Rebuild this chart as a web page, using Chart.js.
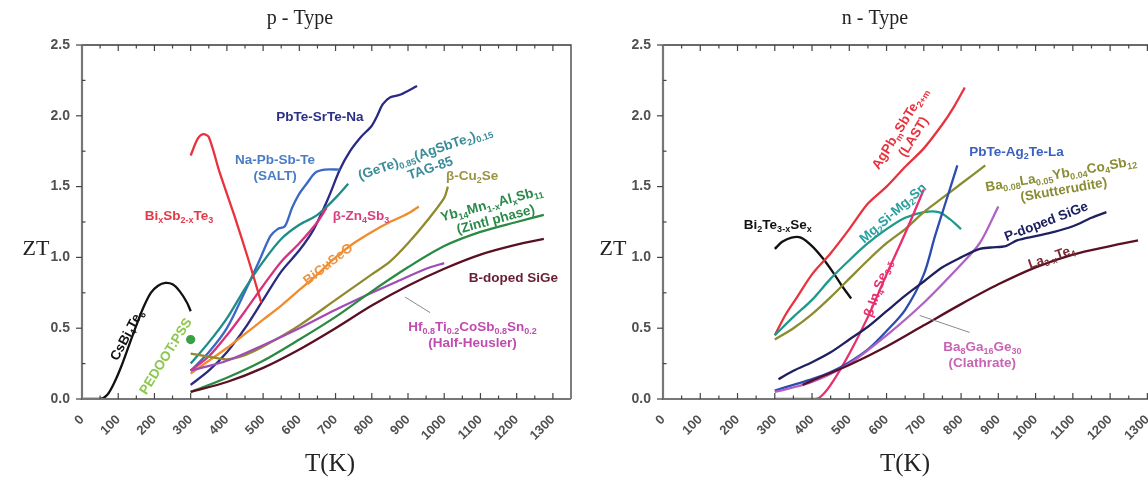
<!DOCTYPE html>
<html>
<head>
<meta charset="utf-8">
<script src="https://cdn.jsdelivr.net/npm/chart.js@4.4.1/dist/chart.umd.min.js"></script>
<style>
  html, body { margin: 0; padding: 0; background: #fff; overflow: hidden; }
  #wrap { position: relative; width: 1148px; height: 483px; overflow: hidden; }
  #pBox { position: absolute; left: 0; top: 0; width: 580px; height: 483px; }
  #nBox { position: absolute; left: 580px; top: 0; width: 606px; height: 483px; }
</style>
</head>
<body>
<div id="wrap">
  <div id="pBox"><canvas id="pChart"></canvas></div>
  <div id="nBox"><canvas id="nChart"></canvas></div>
</div>
<script>
// ---- ZT vs temperature, [T (K), ZT] pairs ----

// p-type materials
const csBi4Te6     = [[0,0],[50,0],[70,0.03],[90,0.12],[110,0.24],[130,0.38],[150,0.52],[170,0.65],[190,0.75],[210,0.8],[230,0.82],[250,0.81],[270,0.76],[290,0.68],[300,0.62]];
const pedotPss     = [[300,0.42]];
const bixSb2xTe3   = [[300,1.72],[320,1.84],[335,1.87],[350,1.85],[380,1.6],[420,1.3],[460,0.98],[495,0.68]];
const naPbSbTe     = [[300,0.2],[350,0.33],[400,0.5],[450,0.76],[490,0.98],[520,1.15],[540,1.2],[560,1.22],[580,1.35],[600,1.45],[620,1.52],[645,1.6],[670,1.62],[712,1.62]];
const pbTeSrTeNa   = [[300,0.1],[350,0.2],[400,0.33],[450,0.5],[500,0.7],[550,0.9],[600,1.05],[640,1.2],[680,1.42],[712,1.62],[740,1.75],[770,1.85],[800,1.93],[815,2.0],[830,2.08],[850,2.13],[880,2.15],[925,2.21]];
const tag85        = [[300,0.25],[350,0.4],[400,0.57],[450,0.78],[500,0.97],[550,1.13],[600,1.23],[650,1.3],[700,1.42],[735,1.52]];
const zn4Sb3       = [[300,0.2],[350,0.3],[400,0.45],[450,0.62],[500,0.8],[550,0.97],[600,1.1],[650,1.25],[675,1.35]];
const biCuSeO      = [[300,0.18],[350,0.27],[400,0.36],[450,0.46],[500,0.56],[550,0.66],[600,0.77],[650,0.88],[700,1.0],[750,1.1],[800,1.18],[850,1.25],[900,1.31],[930,1.36]];
const cu2Se        = [[300,0.32],[350,0.3],[400,0.28],[450,0.31],[500,0.37],[600,0.52],[700,0.7],[800,0.88],[850,0.97],[900,1.1],[950,1.25],[1000,1.42],[1010,1.5]];
const ybMnAlSb     = [[300,0.05],[400,0.15],[500,0.27],[600,0.42],[700,0.58],[800,0.76],[900,0.93],[1000,1.08],[1100,1.18],[1200,1.25],[1275,1.3]];
const siGeBoron    = [[300,0.05],[400,0.12],[500,0.22],[600,0.35],[700,0.5],[800,0.66],[900,0.8],[1000,0.92],[1100,1.02],[1200,1.09],[1275,1.13]];
const halfHeusler  = [[300,0.2],[400,0.27],[500,0.38],[600,0.5],[700,0.63],[800,0.75],[870,0.83],[950,0.92],[1000,0.96]];

// n-type materials
const bi2Te3Se     = [[300,1.06],[320,1.11],[345,1.14],[370,1.14],[400,1.08],[430,0.99],[460,0.88],[480,0.8],[505,0.71]];
const lastAgPbSbTe = [[300,0.45],[330,0.6],[360,0.72],[400,0.88],[450,1.03],[500,1.2],[550,1.38],[600,1.5],[650,1.64],[700,1.77],[750,1.94],[780,2.06],[810,2.2]];
const mg2SiSn      = [[300,0.45],[350,0.58],[400,0.7],[450,0.85],[500,0.98],[550,1.1],[600,1.2],[650,1.28],[700,1.32],[740,1.32],[770,1.27],[800,1.2]];
const skutterudite = [[300,0.42],[350,0.5],[400,0.6],[450,0.72],[500,0.85],[550,0.98],[600,1.1],[650,1.2],[700,1.32],[750,1.42],[800,1.52],[865,1.65]];
const in4Se3       = [[300,0],[350,0],[400,0],[420,0.01],[450,0.1],[500,0.32],[550,0.58],[600,0.88],[650,1.17],[700,1.48]];
const pbTeAg2TeLa  = [[300,0.06],[350,0.1],[400,0.14],[450,0.19],[500,0.26],[550,0.35],[600,0.48],[650,0.63],[700,0.88],[730,1.15],[760,1.4],[790,1.65]];
const clathrate    = [[300,0.05],[400,0.12],[500,0.25],[600,0.45],[700,0.68],[800,0.95],[850,1.1],[900,1.36]];
const siGePhos     = [[310,0.14],[350,0.2],[400,0.26],[450,0.33],[500,0.42],[550,0.51],[600,0.62],[650,0.73],[700,0.83],[750,0.93],[800,1.0],[850,1.06],[880,1.07],[920,1.08],[950,1.12],[1000,1.15],[1050,1.18],[1100,1.22],[1150,1.28],[1190,1.32]];
const la3Te4       = [[375,0.1],[400,0.13],[500,0.24],[600,0.37],[700,0.52],[800,0.67],[900,0.81],[1000,0.93],[1100,1.02],[1200,1.08],[1275,1.12]];

// axis tick values
const tempTicks = [0,100,200,300,400,500,600,700,800,900,1000,1100,1200,1300];
const ztTicks   = [0,0.5,1.0,1.5,2.0,2.5];

// ---- styling ----
const SANS  = '"Liberation Sans", Arial, sans-serif';
const SERIF = '"Liberation Serif", "DejaVu Serif", serif';

const pSeries = [
  { data: csBi4Te6,    color: '#111111' },
  { data: bixSb2xTe3,  color: '#e8323e' },
  { data: siGeBoron,   color: '#5a0f22' },
  { data: ybMnAlSb,    color: '#2a8a44' },
  { data: halfHeusler, color: '#a04cb4' },
  { data: cu2Se,       color: '#8f8a2c' },
  { data: biCuSeO,     color: '#f08c2c' },
  { data: zn4Sb3,      color: '#d8327c' },
  { data: tag85,       color: '#1e8c88' },
  { data: naPbSbTe,    color: '#3a68c4' },
  { data: pbTeSrTeNa,  color: '#2a2a84' },
  { data: pedotPss,    color: '#3aa046', point: true }
];

const nSeries = [
  { data: la3Te4,       color: '#5a0f22' },
  { data: siGePhos,     color: '#1e2060' },
  { data: clathrate,    color: '#b060c4' },
  { data: pbTeAg2TeLa,  color: '#2c4cb0' },
  { data: in4Se3,       color: '#e8306c' },
  { data: skutterudite, color: '#8a8c30' },
  { data: mg2SiSn,      color: '#1e9a8a' },
  { data: lastAgPbSbTe, color: '#e8323e' },
  { data: bi2Te3Se,     color: '#111111' }
];

// text annotations placed in data coordinates: [T, ZT], rotation in degrees
const pLabels = [
  { lines: ['CsBi_{4}Te_{6}'], at: [125, 0.45], rot: -62, color: '#111111' },
  { lines: ['PEDOOT:PSS'], at: [232, 0.30], rot: -58, color: '#8cc84e' },
  { lines: ['Bi_{x}Sb_{2-x}Te_{3}'], at: [268, 1.29], rot: 0, color: '#e23a48' },
  { lines: ['Na-Pb-Sb-Te', '(SALT)'], at: [533, 1.63], rot: 0, color: '#4a7cc6' },
  { lines: ['PbTe-SrTe-Na'], at: [657, 1.99], rot: 0, color: '#2a3084' },
  { lines: ['(GeTe)_{0.85}(AgSbTe_{2})_{0.15}', 'TAG-85'], at: [955, 1.68], rot: -19, color: '#3a8c9a' },
  { lines: ['β-Cu_{2}Se'], at: [1077, 1.57], rot: 0, color: '#9a9440' },
  { lines: ['Yb_{14}Mn_{1-x}Al_{x}Sb_{11}', '(Zintl phase)'], at: [1137, 1.32], rot: -15, color: '#2a8a4a' },
  { lines: ['β-Zn_{4}Sb_{3}'], at: [770, 1.29], rot: 0, color: '#d8407c' },
  { lines: ['BiCuSeO'], at: [680, 0.95], rot: -38, color: '#f0923e' },
  { lines: ['B-doped SiGe'], at: [1191, 0.85], rot: 0, color: '#6a2034' },
  { lines: ['Hf_{0.8}Ti_{0.2}CoSb_{0.8}Sn_{0.2}', '(Half-Heusler)'], at: [1078, 0.45], rot: 0, color: '#c04cb0' }
];
const pPointers = [ { from: [961, 0.61], to: [892, 0.72] } ];

const nLabels = [
  { lines: ['Bi_{2}Te_{3-x}Se_{x}'], at: [308, 1.23], rot: 0, color: '#111111' },
  { lines: ['AgPb_{m}SbTe_{2+m}', '(LAST)'], at: [655, 1.88], rot: -58, color: '#e8323e' },
  { lines: ['PbTe-Ag_{2}Te-La'], at: [949, 1.74], rot: 0, color: '#3a60c0' },
  { lines: ['Ba_{0.08}La_{0.05}Yb_{0.04}Co_{4}Sb_{12}', '(Skutterudite)'], at: [1072, 1.53], rot: -10, color: '#8a8c34' },
  { lines: ['Mg_{2}Si-Mg_{2}Sn'], at: [618, 1.31], rot: -41, color: '#2aa0a0' },
  { lines: ['P-doped SiGe'], at: [1029, 1.25], rot: -21, color: '#1e2060' },
  { lines: ['La_{3-x}Te_{4}'], at: [1043, 1.0], rot: -19, color: '#7a2a30' },
  { lines: ['β-In_{4}Se_{3-δ}'], at: [578, 0.78], rot: -70, color: '#e8306c' },
  { lines: ['Ba_{8}Ga_{16}Ge_{30}', '(Clathrate)'], at: [857, 0.31], rot: 0, color: '#c864b4' }
];
const nPointers = [ { from: [823, 0.47], to: [689, 0.59] } ];

// ---- helpers ----
function toXY(pairs) { return pairs.map(p => ({ x: p[0], y: p[1] })); }

function parseRich(s) {
  const out = []; const re = /_\{([^}]*)\}/g; let last = 0, m;
  while ((m = re.exec(s))) {
    if (m.index > last) out.push({ t: s.slice(last, m.index), sub: false });
    out.push({ t: m[1], sub: true });
    last = re.lastIndex;
  }
  if (last < s.length) out.push({ t: s.slice(last), sub: false });
  return out;
}

function drawRich(ctx, s, cx, cy, size) {
  const parts = parseRich(s);
  const fMain = `bold ${size}px ${SANS}`;
  const fSub = `bold ${Math.round(size * 0.66)}px ${SANS}`;
  let w = 0;
  parts.forEach(p => { ctx.font = p.sub ? fSub : fMain; p.w = ctx.measureText(p.t).width; w += p.w; });
  let x = cx - w / 2;
  ctx.textBaseline = 'middle'; ctx.textAlign = 'left';
  parts.forEach(p => {
    ctx.font = p.sub ? fSub : fMain;
    ctx.fillText(p.t, x, cy + (p.sub ? size * 0.32 : 0));
    x += p.w;
  });
}

// frame, inward/outward tick marks, titles, annotations
function decorPlugin(opts) {
  return {
    id: 'decor',
    afterDatasetsDraw(chart) {
      const { ctx, chartArea: a, scales } = chart;
      const xs = scales.x, ys = scales.y;
      ctx.save();
      // frame
      ctx.strokeStyle = '#3a3a3a'; ctx.lineWidth = 1.3;
      ctx.beginPath();
      ctx.moveTo(a.left, a.top); ctx.lineTo(a.right, a.top); ctx.lineTo(a.right, a.bottom);
      ctx.stroke();
      ctx.strokeStyle = '#777'; ctx.lineWidth = 2.2;
      ctx.beginPath();
      ctx.moveTo(a.left, a.top); ctx.lineTo(a.left, a.bottom); ctx.lineTo(a.right, a.bottom);
      ctx.stroke();
      // x ticks (inside, top and bottom)
      ctx.lineWidth = 1.2; ctx.strokeStyle = '#444';
      for (let t = 0; t <= 1350; t += 50) {
        const px = xs.getPixelForValue(t);
        if (px <= a.left + 1 || px >= a.right - 1) continue;
        const len = (t % 100 === 0) ? 6 : 3.5;
        ctx.beginPath();
        ctx.moveTo(px, a.bottom); ctx.lineTo(px, a.bottom - len);
        ctx.moveTo(px, a.top); ctx.lineTo(px, a.top + len);
        ctx.stroke();
      }
      // y ticks: majors outward, minors inward
      ztTicks.forEach(v => {
        const py = ys.getPixelForValue(v);
        ctx.beginPath(); ctx.moveTo(a.left, py); ctx.lineTo(a.left - 6, py); ctx.stroke();
      });
      for (let v = 0.25; v < 2.5; v += 0.5) {
        const py = ys.getPixelForValue(v);
        ctx.beginPath(); ctx.moveTo(a.left, py); ctx.lineTo(a.left + 3.5, py); ctx.stroke();
      }
      // pointer lines
      ctx.strokeStyle = '#8a8a8a'; ctx.lineWidth = 1;
      opts.pointers.forEach(p => {
        ctx.beginPath();
        ctx.moveTo(xs.getPixelForValue(p.from[0]), ys.getPixelForValue(p.from[1]));
        ctx.lineTo(xs.getPixelForValue(p.to[0]), ys.getPixelForValue(p.to[1]));
        ctx.stroke();
      });
      // annotations
      opts.labels.forEach(l => {
        const px = xs.getPixelForValue(l.at[0]), py = ys.getPixelForValue(l.at[1]);
        ctx.save();
        ctx.translate(px, py);
        ctx.rotate(l.rot * Math.PI / 180);
        ctx.fillStyle = l.color;
        const lh = 16, n = l.lines.length;
        l.lines.forEach((s, i) => drawRich(ctx, s, 0, (i - (n - 1) / 2) * lh, 13.5));
        ctx.restore();
      });
      // titles
      ctx.fillStyle = '#222'; ctx.textAlign = 'center'; ctx.textBaseline = 'middle';
      ctx.font = `20px ${SERIF}`;
      ctx.fillText(opts.title, opts.titleX, 19);
      ctx.font = `22px ${SERIF}`;
      ctx.fillText('ZT', opts.ztX, 249);
      ctx.font = `25px ${SERIF}`;
      ctx.fillText('T(K)', opts.tkX, 464);
      ctx.restore();
    }
  };
}

function buildChart(canvasId, series, cfg) {
  const datasets = series.map(s => ({
    data: toXY(s.data),
    borderColor: s.color,
    backgroundColor: s.color,
    borderWidth: 2.3,
    showLine: !s.point,
    pointRadius: s.point ? 3.5 : 0,
    tension: 0.3,
    fill: false
  }));
  return new Chart(document.getElementById(canvasId), {
    type: 'line',
    data: { datasets },
    options: {
      responsive: true, maintainAspectRatio: false, animation: false,
      layout: { padding: { left: 0, top: 45, right: cfg.padRight, bottom: 0 } },
      plugins: { legend: { display: false }, tooltip: { enabled: false }, title: { display: false } },
      scales: {
        x: {
          type: 'linear', min: 0, max: 1350,
          afterFit(s) { s.height = 84; },
          afterBuildTicks(s) { s.ticks = tempTicks.map(v => ({ value: v })); },
          grid: { display: false }, border: { display: false },
          ticks: { autoSkip: false, minRotation: 45, maxRotation: 45, padding: 5, color: '#505050',
                   font: { family: SANS, size: 13, weight: 'bold' }, callback: v => String(v) }
        },
        y: {
          type: 'linear', min: 0, max: 2.5,
          afterFit(s) { s.width = cfg.yWidth; },
          afterBuildTicks(s) { s.ticks = ztTicks.map(v => ({ value: v })); },
          grid: { display: false }, border: { display: false },
          ticks: { padding: 4, color: '#505050', font: { family: SANS, size: 14, weight: 'bold' },
                   callback: v => Number(v).toFixed(1) }
        }
      }
    },
    plugins: [decorPlugin(cfg)]
  });
}

buildChart('pChart', pSeries, {
  padRight: 9, yWidth: 82, title: 'p - Type', titleX: 300, ztX: 36, tkX: 330,
  labels: pLabels, pointers: pPointers
});
buildChart('nChart', nSeries, {
  padRight: 20, yWidth: 83, title: 'n - Type', titleX: 295, ztX: 33, tkX: 325,
  labels: nLabels, pointers: nPointers
});
</script>
</body>
</html>
